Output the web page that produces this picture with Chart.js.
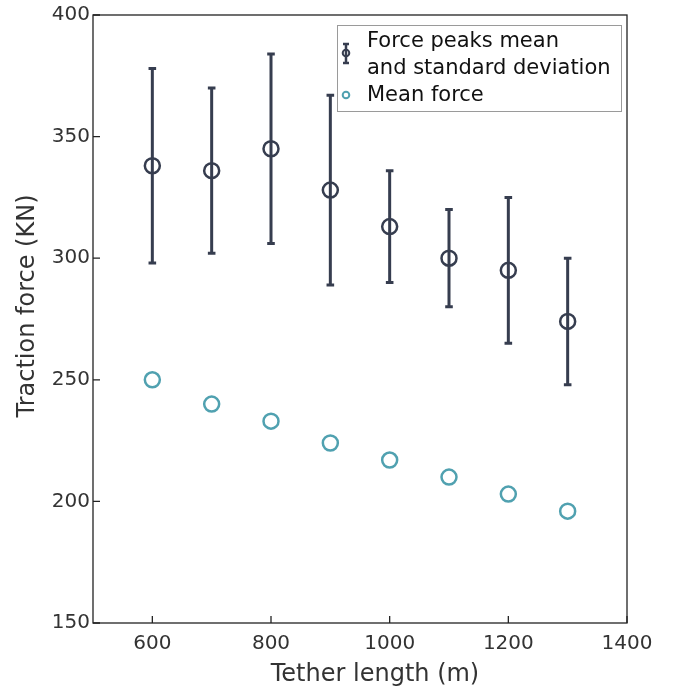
<!DOCTYPE html>
<html><head><meta charset="utf-8">
<script src="https://cdn.jsdelivr.net/npm/chart.js@4/dist/chart.umd.min.js"></script>
<style>html,body{margin:0;padding:0;background:#fff}#wrap{width:686px;height:693px}</style>
</head><body><div id="wrap"><canvas id="c" width="686" height="693"></canvas></div>
<script>
const tetherLength = [600, 700, 800, 900, 1000, 1100, 1200, 1300];
const peakMean = [338, 336, 345, 328, 313, 300, 295, 274];
const peakUpper = [378, 370, 384, 367, 336, 320, 325, 300];
const peakLower = [298, 302, 306, 289, 290, 280, 265, 248];
const meanForce = [250, 240, 233, 224, 217, 210, 203, 196];
const xTicks = [600, 800, 1000, 1200, 1400];
const yTicks = [150, 200, 250, 300, 350, 400];
const xTitle = 'Tether length (m)';
const yTitle = 'Traction force (KN)';
const legendLabels = [["Force peaks mean", "and standard deviation"], ["Mean force"]];

const DARK = '#363d4f', TEAL = '#50a1b0', FONT = "'DejaVu Sans', Verdana, sans-serif";

const errorBars = {
  id: 'errorBars',
  afterDatasetsDraw(chart) {
    const {ctx, scales: {x, y}} = chart;
    ctx.save();
    ctx.strokeStyle = DARK; ctx.lineWidth = 3;
    tetherLength.forEach((t, i) => {
      const px = x.getPixelForValue(t);
      const top = y.getPixelForValue(peakUpper[i]);
      const bot = y.getPixelForValue(peakLower[i]);
      ctx.beginPath();
      ctx.moveTo(px, top); ctx.lineTo(px, bot);
      ctx.moveTo(px - 3.8, top); ctx.lineTo(px + 3.8, top);
      ctx.moveTo(px - 3.8, bot); ctx.lineTo(px + 3.8, bot);
      ctx.stroke();
    });
    ctx.restore();
  }
};

const frame = {
  id: 'frame',
  afterDraw(chart) {
    const {ctx, chartArea: a, scales: {x, y}} = chart;
    ctx.save();
    ctx.strokeStyle = '#222'; ctx.lineWidth = 1.3;
    ctx.strokeRect(a.left, a.top, a.right - a.left, a.bottom - a.top);
    ctx.beginPath();
    x.ticks.forEach(t => { const px = x.getPixelForValue(t.value); ctx.moveTo(px, a.bottom); ctx.lineTo(px, a.bottom - 7); });
    y.ticks.forEach(t => { const py = y.getPixelForValue(t.value); ctx.moveTo(a.left, py); ctx.lineTo(a.left + 7, py); });
    ctx.stroke();
    // axis titles
    ctx.fillStyle = '#333'; ctx.font = '24px ' + FONT; ctx.textAlign = 'center'; ctx.textBaseline = 'middle';
    ctx.fillText(xTitle, 375, 675);
    ctx.save(); ctx.translate(28, 306); ctx.rotate(-Math.PI / 2); ctx.fillText(yTitle, 0, 0); ctx.restore();
    // legend
    const lx = 337, ly = 25, lw = 284, lh = 86;
    ctx.fillStyle = '#fff'; ctx.fillRect(lx, ly, lw, lh);
    ctx.strokeStyle = '#9a9a9a'; ctx.lineWidth = 1;
    ctx.strokeRect(lx + 0.5, ly + 0.5, lw, lh);
    ctx.fillStyle = '#111'; ctx.font = '21px ' + FONT; ctx.textBaseline = 'middle'; ctx.textAlign = 'left';
    ctx.fillText(legendLabels[0][0], 367, 42);
    ctx.fillText(legendLabels[0][1], 367, 69);
    ctx.fillText(legendLabels[1][0], 367, 96);
    ctx.strokeStyle = DARK; ctx.lineWidth = 2.5;
    ctx.beginPath();
    ctx.moveTo(346, 44); ctx.lineTo(346, 63);
    ctx.moveTo(343, 44); ctx.lineTo(349, 44);
    ctx.moveTo(343, 63); ctx.lineTo(349, 63);
    ctx.stroke();
    ctx.lineWidth = 2;
    ctx.beginPath(); ctx.arc(346, 53, 3.3, 0, Math.PI * 2); ctx.stroke();
    ctx.strokeStyle = TEAL;
    ctx.beginPath(); ctx.arc(346, 95, 3.3, 0, Math.PI * 2); ctx.stroke();
    ctx.restore();
  }
};

new Chart(document.getElementById('c'), {
  type: 'scatter',
  data: {
    datasets: [
      { label: 'Force peaks mean and standard deviation', data: tetherLength.map((t, i) => ({x: t, y: peakMean[i]})),
        pointStyle: 'circle', pointRadius: 7.5, pointBorderWidth: 2.5, borderColor: DARK, backgroundColor: 'rgba(0,0,0,0)' },
      { label: 'Mean force', data: tetherLength.map((t, i) => ({x: t, y: meanForce[i]})),
        pointStyle: 'circle', pointRadius: 7.5, pointBorderWidth: 2.5, borderColor: TEAL, backgroundColor: 'rgba(0,0,0,0)' }
    ]
  },
  options: {
    responsive: false, animation: false, devicePixelRatio: 1,
    layout: { padding: { top: 15, right: 59, left: 0, bottom: 0 } },
    plugins: { legend: { display: false }, tooltip: { enabled: false } },
    scales: {
      x: {
        type: 'linear', min: 500, max: 1400,
        afterBuildTicks: s => { s.ticks = xTicks.map(v => ({value: v})); },
        afterFit: s => { s.height = 70; },
        grid: { display: false, drawTicks: false }, border: { display: false },
        ticks: { color: '#333', font: { family: FONT, size: 20 }, padding: 9, callback: v => String(v) },
        title: { display: false, text: xTitle }
      },
      y: {
        type: 'linear', min: 150, max: 400,
        afterBuildTicks: s => { s.ticks = yTicks.map(v => ({value: v})); },
        afterFit: s => { s.width = 93; },
        grid: { display: false, drawTicks: false }, border: { display: false },
        ticks: { color: '#333', font: { family: FONT, size: 20 }, padding: 3, callback: v => String(v) },
        title: { display: false, text: yTitle }
      }
    }
  },
  plugins: [errorBars, frame]
});
</script></body></html>
